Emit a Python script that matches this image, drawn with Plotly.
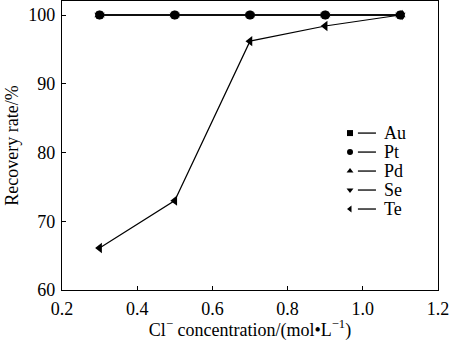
import plotly.graph_objects as go

# Cl- concentration (mol/L) and recovery rate (%) for each element
conc = [0.3, 0.5, 0.7, 0.9, 1.1]
au = [100, 100, 100, 100, 100]
pt = [100, 100, 100, 100, 100]
pd_ = [100, 100, 100, 100, 100]
se = [100, 100, 100, 100, 100]
te = [66.1, 73.0, 96.2, 98.4, 100]

names = ["Au", "Pt", "Pd", "Se", "Te"]
symbols = ["square", "circle", "triangle-up", "triangle-down", "triangle-left"]
sizes = [7, 9, 9, 9, 9]
series = [au, pt, pd_, se, te]

FONT = "Liberation Serif"

fig = go.Figure()
for name, sym, sz, vals in zip(names, symbols, sizes, series):
    fig.add_trace(go.Scatter(
        x=conc, y=vals, name=name, mode="lines+markers",
        line=dict(color="black", width=1.2),
        marker=dict(symbol=sym, size=sz, color="black"),
        showlegend=False, cliponaxis=False,
    ))

# Legend drawn as marker, short line, label
row0, step = 0.543, 0.0657
mx, lx0, lx1, tx = 0.766, 0.787, 0.835, 0.852
for i, (name, sym) in enumerate(zip(names, symbols)):
    yy = row0 - i * step
    fig.add_trace(go.Scatter(
        x=[mx], y=[yy], xaxis="x2", yaxis="y2", mode="markers",
        marker=dict(symbol=sym, size=6, color="black"),
        showlegend=False, hoverinfo="skip", cliponaxis=False,
    ))
    fig.add_shape(type="line", xref="paper", yref="paper",
                  x0=lx0, x1=lx1, y0=yy, y1=yy,
                  line=dict(color="black", width=1.3))
    fig.add_annotation(x=tx, y=yy, xref="paper", yref="paper",
                       text=name, showarrow=False, xanchor="left",
                       yanchor="middle", font=dict(family=FONT, size=18, color="black"))

axis_common = dict(
    showline=True, linecolor="black", linewidth=1.3, mirror=True,
    ticks="inside", ticklen=4, tickwidth=1, tickcolor="black",
    showgrid=False, zeroline=False,
    tickfont=dict(family=FONT, size=18, color="black"),
)

fig.update_layout(
    width=450, height=341,
    margin=dict(l=62, r=12, t=1, b=51),
    plot_bgcolor="white", paper_bgcolor="white",
    font=dict(family=FONT, size=18, color="black"),
    xaxis=dict(range=[0.2, 1.2], tickvals=[0.2, 0.4, 0.6, 0.8, 1.0, 1.2],
               ticktext=["0.2", "0.4", "0.6", "0.8", "1.0", "1.2"],
               title=dict(text="Cl<sup>−</sup> concentration/(mol•L<sup>−1</sup>)",
                          font=dict(family=FONT, size=18, color="black"), standoff=6),
               ticklabelstandoff=2, **axis_common),
    yaxis=dict(range=[60, 102.04], tickvals=[60, 70, 80, 90, 100],
               title=dict(text="Recovery rate/%",
                          font=dict(family=FONT, size=18, color="black"), standoff=4),
               ticklabelstandoff=2, **axis_common),
    xaxis2=dict(range=[0, 1], overlaying="x", visible=False, fixedrange=True),
    yaxis2=dict(range=[0, 1], overlaying="y", visible=False, fixedrange=True),
    showlegend=False,
)

fig.write_html("out.html")
